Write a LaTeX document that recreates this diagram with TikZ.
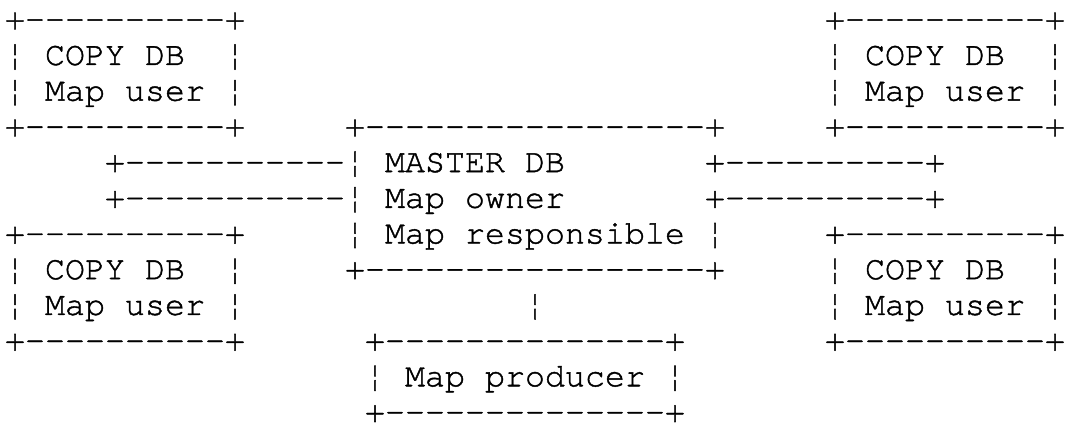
\documentclass[tikz,border=0pt]{standalone}
\usepackage{fontspec}
\newfontfamily\cour[FakeBold=1.2]{TeX Gyre Cursor}
\tikzset{
  asc/.style={font=\cour\fontsize{33.33pt}{35.7pt}\selectfont, inner sep=0pt, outer sep=0pt, anchor=base west},
}
% place a run of characters at a character cell (column, row) of the grid
\newcommand\seg[4]{\node[asc] (#1) at ({5+20*#2},{424-29.3-35.7*(#3-1)}) {#4};}
\begin{document}
\begin{tikzpicture}[x=1pt,y=1pt]
\useasboundingbox (0,0) rectangle (1065,424);
% upper-left copy
\seg{ulT}{0}{1}{+----------+}
\seg{ulA}{0}{2}{¦~COPY~DB~~¦}
\seg{ulB}{0}{3}{¦~Map~user~¦}
\seg{ulF}{0}{4}{+----------+}
% upper-right copy
\seg{urT}{41}{1}{+----------+}
\seg{urA}{41}{2}{¦~COPY~DB~~¦}
\seg{urB}{41}{3}{¦~Map~user~¦}
\seg{urF}{41}{4}{+----------+}
% master
\seg{mT}{17}{4}{+-----------------+}
\seg{mA}{17}{5}{¦~MASTER~DB}
\seg{mB}{17}{6}{¦~Map~owner}
\seg{mC}{17}{7}{¦~Map~responsible~¦}
\seg{mF}{17}{8}{+-----------------+}
% links to the left and right
\seg{lkA}{5}{5}{+-----------}
\seg{lkB}{5}{6}{+-----------}
\seg{rkA}{35}{5}{+----------+}
\seg{rkB}{35}{6}{+----------+}
% lower-left copy
\seg{llT}{0}{7}{+----------+}
\seg{llA}{0}{8}{¦~COPY~DB~~¦}
\seg{llB}{0}{9}{¦~Map~user~¦}
\seg{llF}{0}{10}{+----------+}
% lower-right copy
\seg{lrT}{41}{7}{+----------+}
\seg{lrA}{41}{8}{¦~COPY~DB~~¦}
\seg{lrB}{41}{9}{¦~Map~user~¦}
\seg{lrF}{41}{10}{+----------+}
% producer
\seg{pl}{26}{9}{¦}
\seg{pT}{18}{10}{+--------------+}
\seg{pA}{18}{11}{¦~Map~producer~¦}
\seg{pF}{18}{12}{+--------------+}
\end{tikzpicture}
\end{document}
